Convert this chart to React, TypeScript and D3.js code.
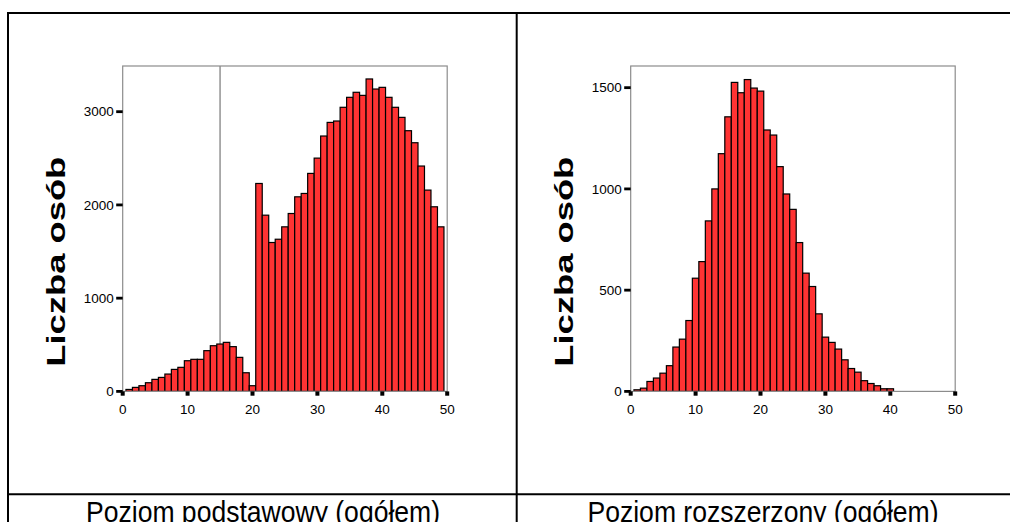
import * as d3 from 'd3'

// score → number of people, scores 1..49 (podstawowy) and 1..40 (rozszerzony)
const basicCounts = [
  21, 43, 61, 93, 129, 150, 186, 236, 258, 329, 344, 344, 437, 490, 508, 526, 480, 365, 200, 61,
  2230, 1890, 1597, 1632, 1765, 1908, 2087, 2123, 2338, 2502, 2739, 2885, 2900, 3047, 3154, 3208,
  3175, 3351, 3243, 3261, 3154, 3047, 2939, 2796, 2667, 2417, 2159, 1980, 1765,
]
const extendedCounts = [
  8, 16, 49, 66, 90, 127, 219, 258, 350, 559, 641, 842, 1000, 1174, 1356, 1526, 1475, 1540, 1498,
  1483, 1291, 1266, 1110, 975, 899, 735, 584, 518, 383, 268, 242, 209, 156, 113, 95, 53, 39, 28, 13, 13,
]
const xTicks = [0, 10, 20, 30, 40, 50]
const basicYTicks = [0, 1000, 2000, 3000]
const extendedYTicks = [0, 500, 1000, 1500]
const yLabel = 'Liczba osób'
const captions = ['Poziom podstawowy (ogółem)', 'Poziom rozszerzony (ogółem)']
const basicMarker = 15

const FONT = "Arial, 'Liberation Sans', sans-serif"
const TOP = 66
const BASE = 391.4

type PanelProps = {
  counts: number[]
  left: number
  yMax: number
  yTicks: number[]
  marker?: number
}

function Histogram({ counts, left, yMax, yTicks, marker }: PanelProps) {
  const x = d3.scaleLinear().domain([0, 50]).range([left, left + 324.5])
  const y = d3.scaleLinear().domain([0, yMax]).range([BASE, TOP])
  const bars = counts.map((v, i) => ({ score: i + 1, v }))
  return (
    <g>
      {marker !== undefined && (
        <line x1={x(marker)} x2={x(marker)} y1={TOP} y2={BASE} stroke="#777" strokeWidth={1.2} />
      )}
      {bars.map((b) => (
        <rect
          key={b.score}
          x={x(b.score - 0.5)}
          y={y(b.v)}
          width={x(b.score + 0.5) - x(b.score - 0.5)}
          height={BASE - y(b.v)}
          fill="#ff3333"
          stroke="#000"
          strokeWidth={1.2}
        />
      ))}
      <rect
        x={x(0)}
        y={TOP}
        width={x(50) - x(0)}
        height={BASE - TOP}
        fill="none"
        stroke="#8c8c8c"
        strokeWidth={1.2}
      />
      {yTicks.map((t) => (
        <g key={t}>
          <rect x={x(0) - 6.5} y={y(t) - 1.4} width={6.5} height={2.8} fill="#000" />
          <text
            x={x(0) - 9}
            y={y(t)}
            dy="0.35em"
            textAnchor="end"
            fontSize={13.5}
            fontFamily={FONT}
            fill="#000"
          >
            {t}
          </text>
        </g>
      ))}
      {xTicks.map((t) => (
        <g key={t}>
          <rect x={x(t) - 2} y={BASE} width={4} height={4.3} fill="#000" />
          <text x={x(t)} y={414} textAnchor="middle" fontSize={13.5} fontFamily={FONT} fill="#000">
            {t}
          </text>
        </g>
      ))}
    </g>
  )
}

export default function App() {
  const labelXs = [65, 573]
  const captionXs = [263, 763]
  const captionLens = [354, 351]
  return (
    <>
      <style>{'body{margin:0}'}</style>
      <svg width={1010} height={522} style={{ display: 'block', background: '#fff' }}>
        <Histogram counts={basicCounts} left={122.7} yMax={3490} yTicks={basicYTicks} marker={basicMarker} />
        <Histogram counts={extendedCounts} left={630.7} yMax={1607} yTicks={extendedYTicks} />

        {labelXs.map((lx) => (
          <text
            key={lx}
            transform={`translate(${lx},261.7) rotate(-90)`}
            textAnchor="middle"
            fontSize={25}
            fontWeight="bold"
            fontFamily={FONT}
            textLength={210}
            lengthAdjust="spacingAndGlyphs"
            fill="#000"
          >
            {yLabel}
          </text>
        ))}

        {captions.map((c, i) => (
          <text
            key={c}
            x={captionXs[i]}
            y={522}
            textAnchor="middle"
            fontSize={30}
            fontFamily={FONT}
            textLength={captionLens[i]}
            lengthAdjust="spacingAndGlyphs"
            fill="#000"
          >
            {c}
          </text>
        ))}

        {/* outer table frame */}
        <g stroke="#000" strokeWidth={2}>
          <line x1={7} x2={1010} y1={13} y2={13} />
          <line x1={8} x2={8} y1={12} y2={522} />
          <line x1={516.7} x2={516.7} y1={12} y2={522} />
          <line x1={8} x2={1010} y1={494.3} y2={494.3} />
        </g>
      </svg>
    </>
  )
}
